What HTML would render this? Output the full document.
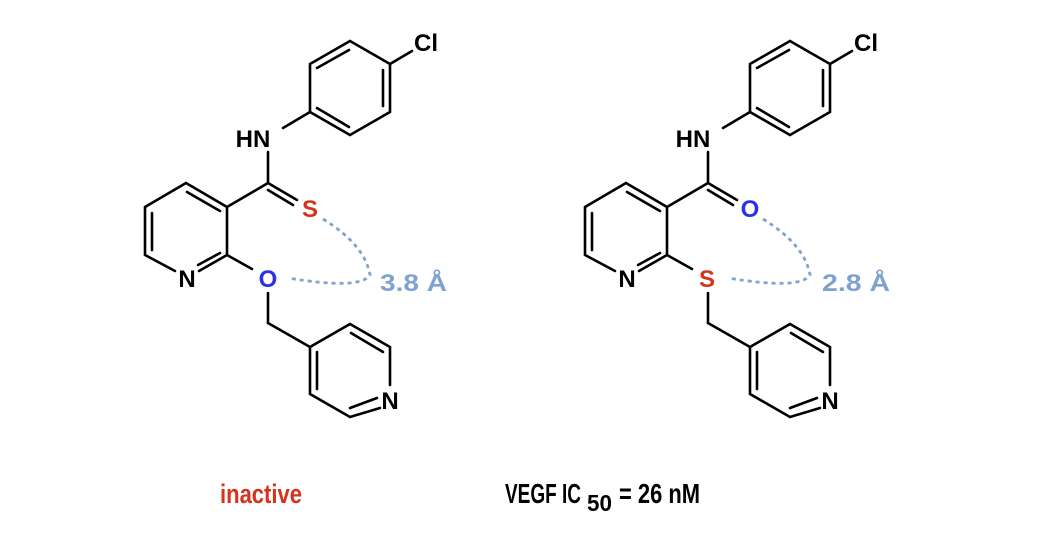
<!DOCTYPE html>
<html><head><style>body{margin:0;background:#fff}svg{display:block}</style></head>
<body>
<svg width="1043" height="534" viewBox="0 0 1043 534" xmlns="http://www.w3.org/2000/svg" font-family="Liberation Sans, Arial, sans-serif" font-weight="bold">
<defs>
<g id="core" stroke="#000" stroke-width="2.6" fill="none" stroke-linecap="round">
  <polyline points="350,41 390,64 390,112 350,135 310,112 310,64 350,41"/>
  <line x1="317" y1="68" x2="349" y2="50"/>
  <line x1="383" y1="70" x2="383" y2="106"/>
  <line x1="317" y1="108" x2="349" y2="127"/>
  <line x1="390" y1="64" x2="412" y2="51"/>
  <line x1="283" y1="128" x2="310" y2="112"/>
  <line x1="268" y1="152" x2="268" y2="183"/>
  <line x1="268" y1="183" x2="227" y2="207"/>
  <polyline points="227,207 227,255"/>
  <polyline points="227,255 199,271"/>
  <polyline points="175,271 145,255 145,207 186,183 227,207"/>
  <line x1="152" y1="213" x2="152" y2="250"/>
  <line x1="187" y1="192" x2="220" y2="211"/>
  <line x1="220" y1="253" x2="198" y2="265"/>
  <line x1="227" y1="255" x2="252" y2="269"/>
  <line x1="268" y1="293" x2="268" y2="323"/>
  <line x1="268" y1="323" x2="310" y2="347"/>
  <polyline points="310,347 350,324 390,347 390,385"/>
  <polyline points="380,408 350,417 310,394 310,347"/>
  <line x1="351" y1="333" x2="383" y2="352"/>
  <line x1="317" y1="352" x2="317" y2="389"/>
  <line x1="350" y1="408" x2="377" y2="398"/>
</g>
</defs>
<use href="#core"/>
<use href="#core" x="440"/>
<g stroke="#000" stroke-width="2.6" stroke-linecap="round">
  <line x1="268" y1="183" x2="297" y2="200"/>
  <line x1="268" y1="190" x2="293" y2="205"/>
  <line x1="708" y1="183" x2="737" y2="200"/>
  <line x1="708" y1="190" x2="733" y2="205"/>
</g>
<g fill="#000" font-size="24" text-anchor="middle">
  <text x="426" y="51">Cl</text><text x="866" y="51">Cl</text>
  <text x="253" y="147">HN</text><text x="693" y="147">HN</text>
  <text x="187" y="287">N</text><text x="627" y="287">N</text>
  <text x="390" y="409">N</text><text x="830" y="409">N</text>
</g>
<text x="310" y="217" font-size="24" fill="#d7321b" text-anchor="middle">S</text>
<text x="268" y="287" font-size="24" fill="#2b2ff0" text-anchor="middle">O</text>
<text x="750" y="217" font-size="24" fill="#2b2ff0" text-anchor="middle">O</text>
<text x="707" y="287" font-size="24" fill="#d7321b" text-anchor="middle">S</text>
<g stroke="#7ea3d0" stroke-width="2.8" fill="none" stroke-dasharray="4,4">
  <path d="M323,219 Q365,245 370,275 Q360,290 288,278"/>
  <path d="M763,219 Q805,245 810,275 Q800,290 728,278"/>
</g>
<g fill="#7ea3d0" font-size="24">
  <text x="380" y="291" textLength="67" lengthAdjust="spacingAndGlyphs">3.8 Å</text>
  <text x="822" y="291" textLength="68" lengthAdjust="spacingAndGlyphs">2.8 Å</text>
</g>
<text x="220" y="503" font-size="27" fill="#d7321b" textLength="82" lengthAdjust="spacingAndGlyphs">inactive</text>
<text x="505" y="503" font-size="28" fill="#000" textLength="76" lengthAdjust="spacingAndGlyphs">VEGF IC</text>
<text x="587" y="511" font-size="23" fill="#000" textLength="25" lengthAdjust="spacingAndGlyphs">50</text>
<text x="619" y="503" font-size="28" fill="#000" textLength="81" lengthAdjust="spacingAndGlyphs">= 26 nM</text>
</svg>
</body></html>
